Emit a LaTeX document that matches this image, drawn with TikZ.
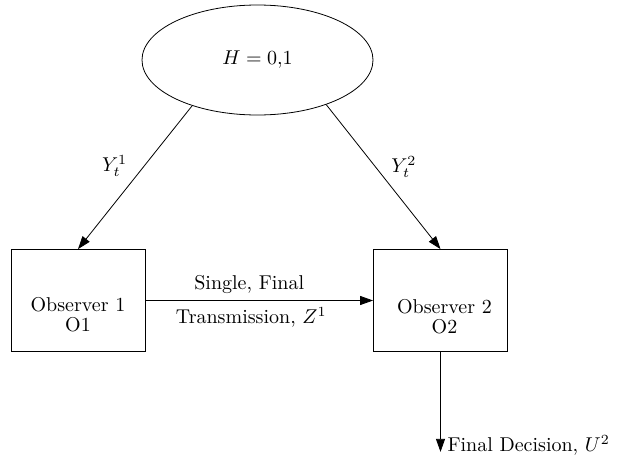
\documentclass[tikz,border=0pt]{standalone}
\usetikzlibrary{shapes.geometric, arrows.meta}
\begin{document}
\begin{tikzpicture}[x=1pt, y=1pt,
    obs/.style={draw, minimum width=67pt, minimum height=51pt, inner sep=0pt},
    link/.style={-{Triangle[length=6.5pt, width=4.5pt]}}]
    \useasboundingbox (0,0) rectangle (318,228.5);

    \node[draw, ellipse, minimum width=115.5pt, minimum height=55pt, inner sep=0pt] (H) at (128.75,198.5) {$H = 0{,}1$};

    \node[obs] (O1) at (39,78.25) {};
    \node[obs] (O2) at (220.25,78.25) {};
    \node[align=center] (O1txt) at ([yshift=-7pt]O1.center) {Observer 1\\[-2pt]O1};
    \node[align=center] (O2txt) at ([xshift=2pt, yshift=-8pt]O2.center) {Observer 2\\[-2pt]O2};

    \draw[link] (H.215) -- (O1.north) node[pos=0.42, left=5pt] {$Y_t^1$};
    \draw[link] (H.327) -- (O2.north) node[pos=0.43, right=4.5pt] {$Y_t^2$};

    \draw[link] (O1.east) -- (O2.west)
        node[midway, above, xshift=-5pt] {Single, Final}
        node[midway, below, xshift=-4pt] {Transmission, $Z^1$};

    \coordinate (dec) at ([yshift=-50pt]O2.south);
    \draw[link] (O2.south) -- (dec);
    \node[anchor=base west] (U2) at (dec) {Final Decision, $U^2$};
\end{tikzpicture}
\end{document}
